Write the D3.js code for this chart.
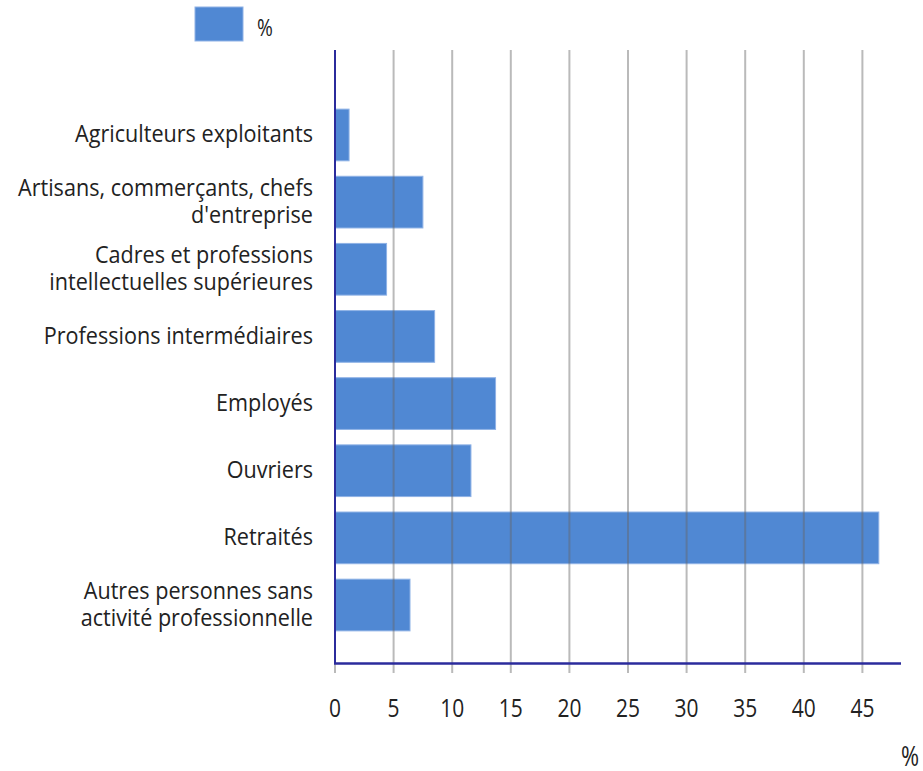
<!DOCTYPE html>
<html><head><meta charset="utf-8">
<script src="https://cdn.jsdelivr.net/npm/d3@7"></script>
<style>body{margin:0;background:#fff}</style>
</head><body>
<svg id="c" width="923" height="771"></svg>
<script>
const categories = [
  ["Agriculteurs exploitants"],
  ["Artisans, commerçants, chefs","d'entreprise"],
  ["Cadres et professions","intellectuelles supérieures"],
  ["Professions intermédiaires"],
  ["Employés"],
  ["Ouvriers"],
  ["Retraités"],
  ["Autres personnes sans","activité professionnelle"]
];
const values = [1.2, 7.5, 4.4, 8.5, 13.7, 11.6, 46.4, 6.4];
const xTicks = [0,5,10,15,20,25,30,35,40,45];
const seriesName = "%";
const axisUnit = "%";

const svg = d3.select("#c");
const font = "'Open Sans', sans-serif";
const x = d3.scaleLinear().domain([0,45]).range([335, 862.4]);
const y = d3.scaleBand().domain(d3.range(categories.length)).range([101.4, 638.6]).paddingInner(0.23).paddingOuter(0.115);
const barColor = "#5088d3";
const axisColor = "#2b2b9c";
const textColor = "#222";

// bars
svg.append("g").selectAll("rect").data(values).join("rect")
  .attr("x", x(0)).attr("y", (d,i)=>y(i))
  .attr("width", d=>x(d)-x(0)).attr("height", y.bandwidth())
  .attr("fill", barColor).attr("stroke", "#8fb2e6").attr("stroke-width", 1);

// grid lines (over bars)
svg.append("g").selectAll("line").data(xTicks.slice(1)).join("line")
  .attr("x1", d=>x(d)).attr("x2", d=>x(d)).attr("y1", 50).attr("y2", 673)
  .attr("stroke", "#666").attr("stroke-opacity", 0.45).attr("stroke-width", 2);
svg.append("line").attr("x1", x(0)).attr("x2", x(0)).attr("y1", 663).attr("y2", 673)
  .attr("stroke", "#666").attr("stroke-opacity", 0.45).attr("stroke-width", 2);

// axes lines
svg.append("line").attr("x1", x(0)).attr("x2", x(0)).attr("y1", 50).attr("y2", 663.5)
  .attr("stroke", axisColor).attr("stroke-width", 2);
svg.append("line").attr("x1", x(0)-1).attr("x2", 901).attr("y1", 663.5).attr("y2", 663.5)
  .attr("stroke", axisColor).attr("stroke-width", 2.5);

function sText(g, tx, ty, sx, size, anchor, str){
  return g.append("text").attr("transform", `translate(${tx},${ty}) scale(${sx},1)`)
    .attr("text-anchor", anchor).attr("font-family", font).attr("font-size", size)
    .attr("fill", textColor).text(str);
}

// x tick labels
const tg = svg.append("g");
xTicks.forEach(d => sText(tg, x(d), 717, 0.84, 25, "middle", d));

// category labels
const lg = svg.append("g");
categories.forEach((lines,i)=>{
  const cy = y(i) + y.bandwidth()/2;
  const lh = 27;
  const start = cy - (lines.length-1)*lh/2 + 7.5;
  lines.forEach((l,j)=> sText(lg, 313, start + j*lh, 0.9, 24, "end", l));
});

// legend
svg.append("rect").attr("x",195).attr("y",7).attr("width",48).attr("height",34)
  .attr("fill", barColor).attr("stroke","#8fb2e6");
sText(svg, 257, 36, 0.8, 24, "start", seriesName);

// unit label
sText(svg, 919, 766, 0.78, 28, "end", axisUnit);
</script>
</body></html>
